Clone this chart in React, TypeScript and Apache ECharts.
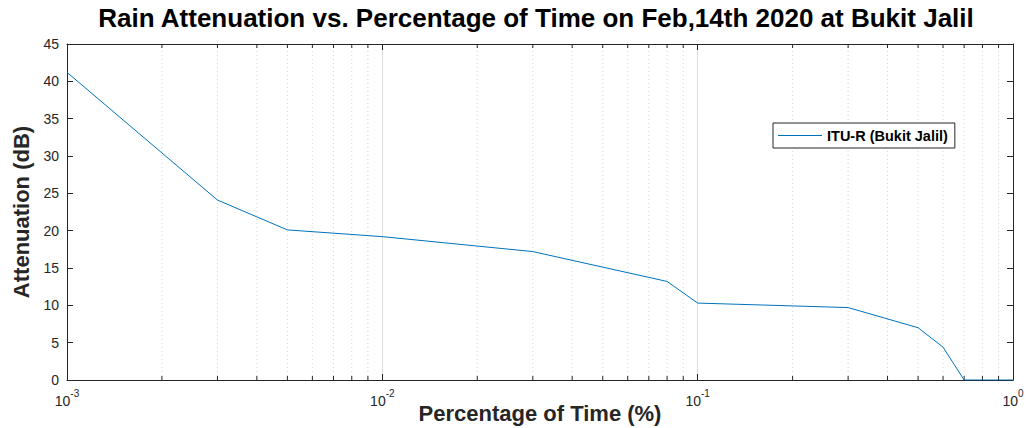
import React, { useEffect, useRef } from "react";
import * as echarts from "echarts";

const pct = [0.001, 0.003, 0.005, 0.01, 0.03, 0.08, 0.1, 0.3, 0.5, 0.6, 0.7, 1];
const att = [41.2, 24.1, 20.1, 19.2, 17.2, 13.2, 10.3, 9.7, 7.0, 4.4, 0, 0];
const minorX = [
  0.002, 0.003, 0.004, 0.005, 0.006, 0.007, 0.008, 0.009,
  0.02, 0.03, 0.04, 0.05, 0.06, 0.07, 0.08, 0.09,
  0.2, 0.3, 0.4, 0.5, 0.6, 0.7, 0.8, 0.9,
];
const seriesName = "ITU-R (Bukit Jalil)";
const FONT = "'Liberation Sans', Arial, Helvetica, sans-serif";
const AX = "#262626";

export default function App() {
  const ref = useRef<HTMLDivElement>(null);
  useEffect(() => {
    const chart = echarts.init(ref.current!, null, { renderer: "svg", width: 1027, height: 428 });
    const xCommon = {
      type: "log" as const,
      logBase: 10,
      min: 0.001,
      max: 1,
      axisLine: { show: true, onZero: false, lineStyle: { color: AX, width: 1 } },
      axisTick: { show: true, inside: true, length: 6, lineStyle: { color: AX } },
    };
    const yCommon = {
      type: "value" as const,
      min: 0,
      max: 45,
      interval: 5,
      axisLine: { show: true, onZero: false, lineStyle: { color: AX, width: 1 } },
      axisTick: { show: true, inside: true, length: 6, lineStyle: { color: AX } },
      splitLine: { show: false },
    };
    chart.setOption({
      animation: false,
      backgroundColor: "#ffffff",
      title: {
        text: "Rain Attenuation vs. Percentage of Time on Feb,14th 2020 at Bukit Jalil",
        left: 531,
        textAlign: "center",
        top: 0,
        textStyle: { fontFamily: FONT, fontSize: 26, fontWeight: "bold", color: "#000" },
      },
      grid: { left: 67, right: 14, top: 44, bottom: 48, containLabel: false, outerBoundsMode: "none" },
      legend: {
        data: [{ name: seriesName, icon: "rect" }],
        left: 773,
        top: 123,
        orient: "vertical",
        itemWidth: 44,
        itemHeight: 1,
        padding: [5, 7, 5, 5],
        borderColor: AX,
        borderWidth: 1,
        borderRadius: 0,
        backgroundColor: "#fff",
        textStyle: { fontFamily: FONT, fontSize: 14.5, fontWeight: "bold", color: "#000" },
      },
      xAxis: [
        {
          ...xCommon,
          position: "bottom",
          name: "Percentage of Time (%)",
          nameLocation: "middle",
          nameGap: 22,
          nameMoveOverlap: false,
          nameTextStyle: { fontFamily: FONT, fontSize: 22, fontWeight: "bold", color: AX },
          axisLabel: {
            show: true,
            margin: 8,
            formatter: (v: number) => `{b|10}{s|${Math.round(Math.log10(v))}}`,
            rich: {
              b: { fontFamily: FONT, fontSize: 14, color: AX, verticalAlign: "bottom", lineHeight: 20 },
              s: { fontFamily: FONT, fontSize: 10, color: AX, verticalAlign: "top", lineHeight: 20 },
            },
          },
          splitLine: { show: true, lineStyle: { color: "#dcdcdc", width: 1 } },
        },
        {
          ...xCommon,
          position: "top",
          axisLabel: { show: false },
          splitLine: { show: false },
        },
      ],
      yAxis: [
        {
          ...yCommon,
          position: "left",
          name: "Attenuation (dB)",
          nameLocation: "middle",
          nameGap: 35,
          nameMoveOverlap: false,
          nameRotate: 90,
          nameTextStyle: { fontFamily: FONT, fontSize: 22, fontWeight: "bold", color: AX },
          axisLabel: { show: true, margin: 8, fontFamily: FONT, fontSize: 14, color: AX },
        },
        {
          ...yCommon,
          position: "right",
          axisLabel: { show: false },
        },
      ],
      series: [
        {
          type: "custom",
          name: "minorGrid",
          silent: true,
          xAxisIndex: 0,
          yAxisIndex: 0,
          z: 1,
          clip: false,
          data: minorX.map((v) => [v, 0]),
          encode: { x: 0, y: 1 },
          renderItem: (_params: any, api: any) => {
            const x = api.value(0);
            const b = api.coord([x, 0]);
            const t = api.coord([x, 45]);
            return {
              type: "group",
              children: [
                {
                  type: "line",
                  shape: { x1: b[0], y1: b[1], x2: t[0], y2: t[1] },
                  style: { stroke: "#d4d4d4", lineWidth: 1, lineDash: [1, 3] },
                },
                {
                  type: "line",
                  shape: { x1: b[0], y1: b[1], x2: b[0], y2: b[1] - 4 },
                  style: { stroke: AX, lineWidth: 1 },
                },
                {
                  type: "line",
                  shape: { x1: t[0], y1: t[1], x2: t[0], y2: t[1] + 4 },
                  style: { stroke: AX, lineWidth: 1 },
                },
              ],
            };
          },
        },
        {
          type: "line",
          name: seriesName,
          xAxisIndex: 0,
          yAxisIndex: 0,
          z: 3,
          symbol: "none",
          showSymbol: false,
          lineStyle: { color: "#0072BD", width: 1 },
          itemStyle: { color: "#0072BD" },
          data: pct.map((p, i) => [p, att[i]]),
        },
      ],
    });
    return () => chart.dispose();
  }, []);
  return (
    <div
      ref={ref}
      style={{ position: "fixed", left: 0, top: 0, width: 1027, height: 428 }}
    />
  );
}
